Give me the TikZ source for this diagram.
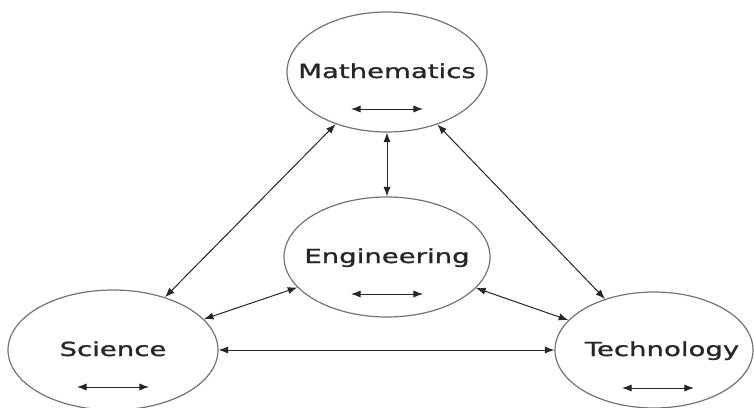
\documentclass[tikz,border=0pt]{standalone}
\usepackage{fontspec}
\setmainfont{DejaVu Sans}[FakeStretch=1.42,FakeBold=1.2]
\usepackage{tikz}
\usetikzlibrary{positioning,shapes,arrows.meta}
\tikzstyle{subject} = [ellipse, draw=black!55, line width=0.6pt, inner xsep=-16pt, inner ysep=-6pt, text=black!85, font=\fontsize{9.7}{11}\selectfont, text height=6pt, text depth=0pt]
\tikzstyle{link} = [<->, draw=black!85, line width=0.5pt]
\tikzstyle{twoway} = [<->, draw=black!85, line width=0.5pt]

\begin{document}
\begin{tikzpicture}[x=0.5pt, y=-0.5pt, >={Latex[length=4.8pt,width=3.6pt]}]
\useasboundingbox (0,0) rectangle (754,407);
\node[subject, minimum width=100pt, minimum height=60pt] (math) at (387,72) {Mathematics};
\node[subject, minimum width=103pt, minimum height=60pt] (eng) at (387,257) {Engineering};
\node[subject, minimum width=105pt, minimum height=60pt] (sci) at (113,350) {Science};
\node[subject, minimum width=99pt, minimum height=58pt] (tech) at (654,350) {\hspace*{8pt}Technology};
% small arrows inside the circles
\foreach \n in {math,eng,sci}
  \draw[twoway] ([xshift=-18pt,yshift=-18.5pt]\n.center) -- ([xshift=18pt,yshift=-18.5pt]\n.center);
\draw[twoway] ([xshift=-16pt,yshift=-19pt]tech.center) -- ([xshift=20pt,yshift=-19pt]tech.center);
\draw[link] (math) -- (eng);
\draw[link] (math) -- (sci);
\draw[link] (math) -- (tech);
\draw[link] (eng) -- (sci);
\draw[link] (eng) -- (tech);
\draw[link] (sci) -- (tech);
\end{tikzpicture}
\end{document}
